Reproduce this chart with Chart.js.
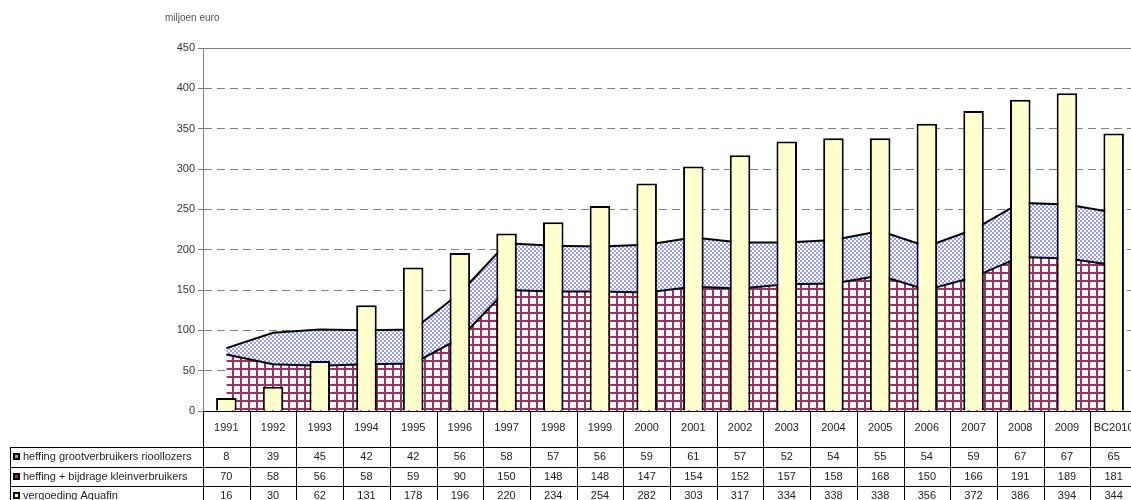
<!DOCTYPE html>
<html>
<head>
<meta charset="utf-8">
<script src="https://cdn.jsdelivr.net/npm/chart.js@4/dist/chart.umd.min.js"></script>
<style>
  body { margin: 0; background: #fff; overflow: hidden; }
  #wrap { width: 1131px; height: 500px; overflow: hidden; }
</style>
</head>
<body>
<div id="wrap"><canvas id="aquafinChart" width="1140" height="500"></canvas></div>
<script>
// data
const years = ['1991', '1992', '1993', '1994', '1995', '1996', '1997', '1998', '1999', '2000',
               '2001', '2002', '2003', '2004', '2005', '2006', '2007', '2008', '2009', 'BC2010'];
const grootverbruikers = [8, 39, 45, 42, 42, 56, 58, 57, 56, 59, 61, 57, 52, 54, 55, 54, 59, 67, 67, 65];
const kleinverbruikers = [70, 58, 56, 58, 59, 90, 150, 148, 148, 147, 154, 152, 157, 158, 168, 150, 166, 191, 189, 181];
const aquafin = [16, 30, 62, 131, 178, 196, 220, 234, 254, 282, 303, 317, 334, 338, 338, 356, 372, 386, 394, 344];
const yTicks = [0, 50, 100, 150, 200, 250, 300, 350, 400, 450];

const rowLabels = ['heffing grootverbruikers rioollozers', 'heffing + bijdrage kleinverbruikers', 'vergoeding Aquafin'];
const rowValues = [grootverbruikers, kleinverbruikers, aquafin];
const keyColors = ['#9999ff', '#993366', '#ffffcc'];

// hatch patterns like the old excel fills
function gridPattern() {
    const c = document.createElement('canvas');
    c.width = 8; c.height = 8;
    const g = c.getContext('2d');
    g.fillStyle = '#fff';
    g.fillRect(0, 0, 8, 8);
    g.fillStyle = '#993366';
    g.fillRect(0, 0, 8, 2);
    g.fillRect(0, 0, 2, 8);
    return g.createPattern(c, 'repeat');
}
function checkPattern() {
    const c = document.createElement('canvas');
    c.width = 4; c.height = 4;
    const g = c.getContext('2d');
    g.fillStyle = '#fff';
    g.fillRect(0, 0, 4, 4);
    g.fillStyle = '#9999ff';
    g.fillRect(0, 0, 2, 2);
    g.fillRect(2, 2, 2, 2);
    return g.createPattern(c, 'repeat');
}

const tablePlugin = {
    id: 'dataTable',
    beforeDraw(chart) {
        const c = chart.ctx;
        c.save();
        c.fillStyle = '#fff';
        c.fillRect(0, 0, chart.width, chart.height);
        c.restore();
    },
    afterDraw(chart) {
        const c = chart.ctx;
        const xs = chart.scales.x;
        const area = chart.chartArea;
        const step = (area.right - area.left) / years.length;
        const top = area.bottom;
        const headBottom = 447;
        const rowH = 19.5;
        c.save();
        // unit label
        c.font = '10px "Liberation Sans", Arial, sans-serif';
        c.fillStyle = '#555';
        c.textAlign = 'left';
        c.textBaseline = 'middle';
        c.fillText('miljoen euro', 165, 18);

        // top border of plot
        c.strokeStyle = '#808080';
        c.lineWidth = 1;
        c.beginPath();
        c.moveTo(area.left, Math.round(area.top) + 0.5);
        c.lineTo(area.right, Math.round(area.top) + 0.5);
        c.stroke();

        c.strokeStyle = '#000';
        c.beginPath();
        // axis / header line
        c.moveTo(area.left, Math.round(top) + 0.5);
        c.lineTo(area.right, Math.round(top) + 0.5);
        for (let r = 0; r < 3; r++) {
            const y = Math.round(headBottom + r * rowH) + 0.5;
            c.moveTo(10, y);
            c.lineTo(area.right, y);
        }
        c.moveTo(10.5, headBottom);
        c.lineTo(10.5, 500);
        for (let i = 0; i <= years.length; i++) {
            const x = Math.round(area.left + i * step) + 0.5;
            c.moveTo(x, top);
            c.lineTo(x, 500);
        }
        c.stroke();

        c.font = '11px "Liberation Sans", Arial, sans-serif';
        c.fillStyle = '#222';
        c.textAlign = 'center';
        years.forEach((yr, i) => {
            c.fillText(yr, xs.getPixelForValue(i), 428);
        });
        rowValues.forEach((vals, r) => {
            const y = headBottom + r * rowH + rowH / 2 + 0.5;
            vals.forEach((v, i) => {
                c.fillText(String(v), xs.getPixelForValue(i), y);
            });
        });
        c.textAlign = 'left';
        rowLabels.forEach((lab, r) => {
            const y = headBottom + r * rowH + rowH / 2 + 0.5;
            c.fillStyle = '#000';
            c.fillRect(13, Math.round(y) - 4, 7, 7);
            c.fillStyle = keyColors[r];
            c.fillRect(15, Math.round(y) - 2, 3, 3);
            c.fillStyle = '#222';
            c.fillText(lab, 23, y);
        });
        c.restore();
    }
};

const ctx = document.getElementById('aquafinChart').getContext('2d');
const aquafinChart = new Chart(ctx, {
    data: {
        labels: years,
        datasets: [{
            type: 'bar',
            label: 'vergoeding Aquafin',
            data: aquafin,
            backgroundColor: '#ffffcc',
            borderColor: '#000',
            borderWidth: 2,
            barPercentage: 0.44,
            categoryPercentage: 1,
            stack: 'bar',
            order: 0
        }, {
            type: 'line',
            label: 'heffing + bijdrage kleinverbruikers',
            data: kleinverbruikers,
            backgroundColor: gridPattern(),
            borderColor: '#000',
            borderWidth: 2,
            pointRadius: 0,
            tension: 0,
            fill: 'origin',
            stack: 'area',
            order: 1
        }, {
            type: 'line',
            label: 'heffing grootverbruikers rioollozers',
            data: grootverbruikers,
            backgroundColor: checkPattern(),
            borderColor: '#000',
            borderWidth: 2,
            pointRadius: 0,
            tension: 0,
            fill: '-1',
            stack: 'area',
            order: 1
        }]
    },
    options: {
        responsive: false,
        animation: false,
        devicePixelRatio: 1,
        layout: { padding: { left: 143, top: 48, right: 3, bottom: 89 } },
        plugins: {
            legend: { display: false },
            tooltip: { enabled: false }
        },
        scales: {
            x: {
                display: false,
                offset: true,
                stacked: false
            },
            y: {
                stacked: true,
                min: 0,
                max: 450,
                afterFit(scale) { scale.width = 60; },
                afterBuildTicks(scale) { scale.ticks = yTicks.map(v => ({ value: v })); },
                ticks: {
                    padding: 3,
                    color: '#333',
                    font: { family: '"Liberation Sans", Arial, sans-serif', size: 11 }
                },
                grid: {
                    color: '#808080',
                    tickLength: 5,
                    tickColor: '#808080'
                },
                border: { display: true, color: '#808080', dash: [8, 5] }
            }
        }
    },
    plugins: [tablePlugin]
});
</script>
</body>
</html>
